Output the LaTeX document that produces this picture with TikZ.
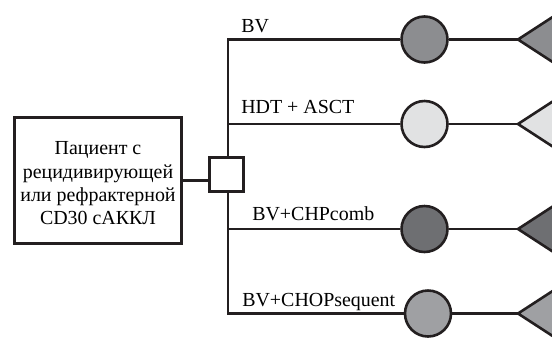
\documentclass[tikz,border=0pt]{standalone}
\usepackage{fontspec}
\setmainfont{Liberation Serif}
\definecolor{ink}{HTML}{231F20}
\definecolor{armA}{HTML}{8C8D90}
\definecolor{armB}{HTML}{E1E2E3}
\definecolor{armC}{HTML}{6E6F72}
\definecolor{armD}{HTML}{9FA0A3}
\begin{document}
\begin{tikzpicture}[x=1bp,y=-1bp,
  line width=2.6bp, draw=ink,
  every node/.style={inner sep=0pt},
  patientbox/.style={draw=ink, rectangle, minimum width=167.5bp, minimum height=126.5bp},
  decisionbox/.style={draw=ink, fill=white, rectangle, minimum size=34.5bp},
  chance/.style={draw=ink, circle, minimum size=46bp},
  endtri/.style={draw=ink},
  armlabel/.style={anchor=base west, font=\fontsize{20}{23}\selectfont},
  boxtext/.style={align=center, font=\fontsize{20}{23.3}\selectfont}]
\useasboundingbox (0,0) rectangle (552,337);
\clip (0,0) rectangle (552,337);

% patient box and decision square
\node[patientbox] (patient) at (98,180.5) {};
\node[boxtext] (patienttext) at (98,183.3) {Пациент с\\рецидивирующей\\или рефрактерной\\CD30 сАККЛ};
\node[decisionbox] (split) at (226.5,174.5) {};

% branch points on the trunk
\coordinate (b1) at (228,39.5);
\coordinate (b2) at (228,124);
\coordinate (b3) at (228,229);
\coordinate (b4) at (228,313.5);

% chance nodes
\node[chance, fill=armA] (c1) at (424.5,39.5) {};
\node[chance, fill=armB] (c2) at (424.5,124) {};
\node[chance, fill=armC] (c3) at (424.5,229) {};
\node[chance, fill=armD] (c4) at (428,313.5) {};

% terminal triangle tips
\coordinate (t1) at (518,39.5);
\coordinate (t2) at (518,124);
\coordinate (t3) at (518,229);
\coordinate (t4) at (518,313.5);

% connectors
\draw (patient.east) -- (patient.east -| split.west);
\draw (c1.west) -- (b1) -- (split.north -| b1);
\draw (c4.west) -- (b4) -- (split.south -| b4);
\draw (b2) -- (c2.west);
\draw (b3) -- (c3.west);
\foreach \i in {1,2,3,4} \draw (c\i.east) -- (t\i);

% terminal triangles
\draw[endtri, fill=armA] (t1) -- ++(60,-39) -- ++(0,78) -- cycle;
\draw[endtri, fill=armB] (t2) -- ++(60,-39) -- ++(0,78) -- cycle;
\draw[endtri, fill=armC] (t3) -- ++(60,-39) -- ++(0,78) -- cycle;
\draw[endtri, fill=armD] (t4) -- ++(60,-39) -- ++(0,78) -- cycle;

% arm labels
\node[armlabel] (l1) at (240,32) {BV};
\node[armlabel] (l2) at (240,113) {HDT + ASCT};
\node[armlabel] (l3) at (251,220) {BV+CHPcomb};
\node[armlabel] (l4) at (241,306) {BV+CHOPsequent};
\end{tikzpicture}
\end{document}
